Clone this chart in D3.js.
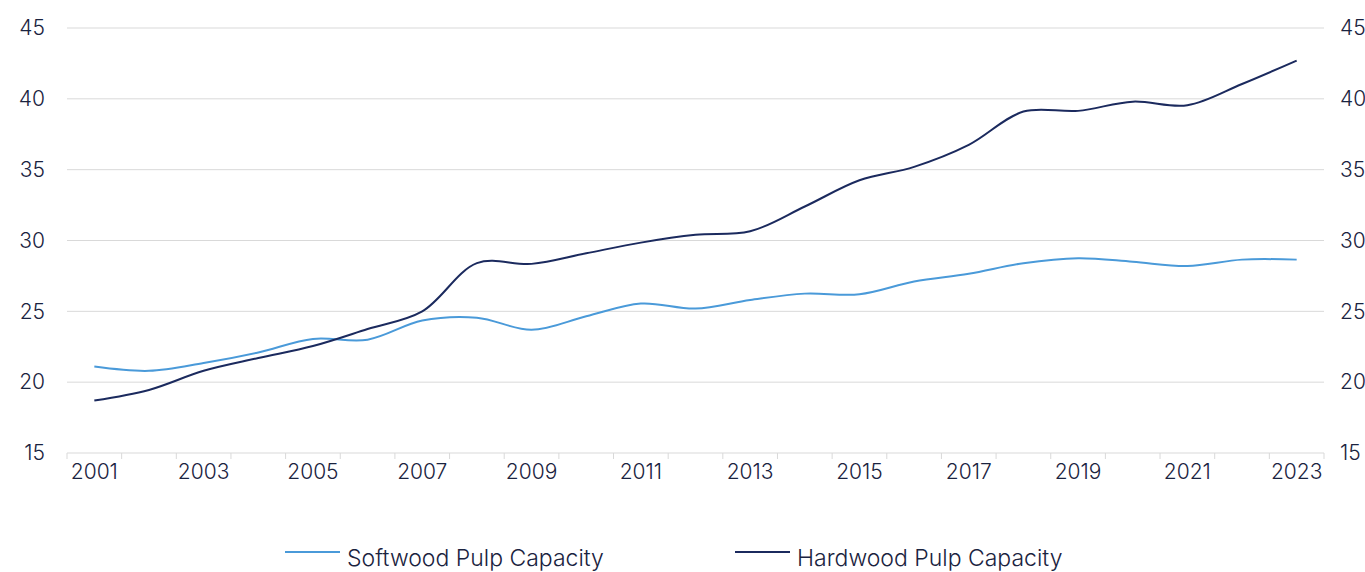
<!DOCTYPE html>
<html>
<head>
<meta charset="utf-8">
<script src="https://cdn.jsdelivr.net/npm/d3@7"></script>
<style>
  html, body { margin: 0; padding: 0; background: #ffffff; }
  svg { display: block; }
  text { font-family: Inter, "Open Sans", sans-serif; fill: #1a2340; }
</style>
</head>
<body>
<svg id="chart" width="1365" height="572"></svg>
<script>
// Pulp capacity by year (million tonnes)
const years = ["2001","2002","2003","2004","2005","2006","2007","2008","2009","2010","2011","2012",
               "2013","2014","2015","2016","2017","2018","2019","2020","2021","2022","2023"];
const softwood = [21.1, 20.8, 21.35, 22.1, 23.05, 23.0, 24.35, 24.55, 23.7, 24.65, 25.55, 25.2,
                  25.8, 26.25, 26.2, 27.1, 27.65, 28.4, 28.75, 28.5, 28.2, 28.65, 28.65];
const hardwood = [18.7, 19.45, 20.8, 21.7, 22.55, 23.75, 25.0, 28.4, 28.35, 29.1, 29.85, 30.4,
                  30.65, 32.4, 34.25, 35.2, 36.75, 39.1, 39.15, 39.8, 39.55, 41.05, 42.7];
const yTicks = [15, 20, 25, 30, 35, 40, 45];
const xTickLabels = ["2001","2003","2005","2007","2009","2011","2013","2015","2017","2019","2021","2023"];
const seriesNames = ["Softwood Pulp Capacity", "Hardwood Pulp Capacity"];
const seriesColors = ["#4a9ad9", "#1b2a5e"];

const svg = d3.select("#chart");
const plotLeft = 67, plotRight = 1324, plotTop = 28, plotBottom = 453;

const x = d3.scaleBand().domain(years).range([plotLeft, plotRight]);
const y = d3.scaleLinear().domain([15, 45]).range([plotBottom, plotTop]);

// horizontal gridlines
svg.append("g").selectAll("line")
  .data(yTicks.filter(t => t > 15))
  .join("line")
  .attr("x1", plotLeft).attr("x2", plotRight)
  .attr("y1", d => y(d)).attr("y2", d => y(d))
  .attr("stroke", "#d9d9d9").attr("stroke-width", 1);

// left value axis
const yLeft = svg.append("g").attr("transform", `translate(${plotLeft},0)`)
  .call(d3.axisLeft(y).tickValues(yTicks).tickSize(0).tickPadding(22));
yLeft.select(".domain").remove();
yLeft.selectAll("text").style("font-size", "21px").style("font-weight", 300).attr("fill", "#1a2340");

// right value axis
const yRight = svg.append("g").attr("transform", `translate(${plotRight},0)`)
  .call(d3.axisRight(y).tickValues(yTicks).tickSize(0).tickPadding(16));
yRight.select(".domain").remove();
yRight.selectAll("text").style("font-size", "21px").style("font-weight", 300).attr("fill", "#1a2340");

// category axis: ticks on band boundaries, labels every other year
const boundaries = years.map(d => x(d)).concat([plotRight]);
const xAxis = svg.append("g");
xAxis.append("line")
  .attr("x1", plotLeft).attr("x2", plotRight).attr("y1", plotBottom).attr("y2", plotBottom)
  .attr("stroke", "#d9d9d9").attr("stroke-width", 1);
xAxis.selectAll("line.tick")
  .data(boundaries)
  .join("line").attr("class", "tick")
  .attr("x1", d => d).attr("x2", d => d)
  .attr("y1", plotBottom).attr("y2", plotBottom + 6)
  .attr("stroke", "#d9d9d9").attr("stroke-width", 1);
xAxis.selectAll("text")
  .data(xTickLabels)
  .join("text")
  .attr("x", d => x(d) + x.bandwidth() / 2)
  .attr("y", plotBottom + 26)
  .attr("text-anchor", "middle")
  .style("font-size", "21px").style("font-weight", 300)
  .text(d => d);

// series lines
const line = d3.line()
  .x((d, i) => x(years[i]) + x.bandwidth() / 2)
  .y(d => y(d))
  .curve(d3.curveCatmullRom.alpha(0.5));

[softwood, hardwood].forEach((vals, k) => {
  svg.append("path")
    .datum(vals)
    .attr("d", line)
    .attr("fill", "none")
    .attr("stroke", seriesColors[k])
    .attr("stroke-width", 2)
    .attr("stroke-linejoin", "round");
});

// legend
const legendX = [285, 735];
const legend = svg.append("g");
seriesNames.forEach((name, k) => {
  legend.append("line")
    .attr("x1", legendX[k]).attr("x2", legendX[k] + 55)
    .attr("y1", 552).attr("y2", 552)
    .attr("stroke", seriesColors[k]).attr("stroke-width", 2);
  legend.append("text")
    .attr("x", legendX[k] + 62).attr("y", 566)
    .style("font-size", "23px").style("font-weight", 300)
    .text(name);
});
</script>
</body>
</html>
